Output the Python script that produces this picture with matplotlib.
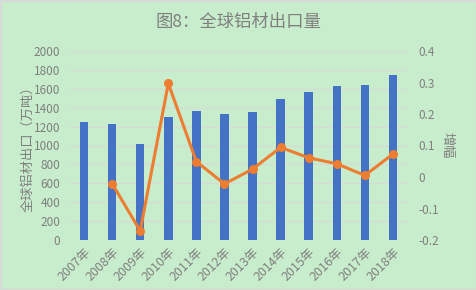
import matplotlib
matplotlib.use("Agg")
import matplotlib.pyplot as plt
import numpy as np

plt.rcParams['font.family'] = ['Noto Sans CJK SC', 'DejaVu Sans']

years = ["2007年", "2008年", "2009年", "2010年", "2011年", "2012年",
         "2013年", "2014年", "2015年", "2016年", "2017年", "2018年"]
exports = [1252, 1224, 1012, 1305, 1365, 1333, 1358, 1489, 1569, 1630, 1640, 1746]
growth = [None, -0.021, -0.171, 0.297, 0.049, -0.022, 0.025, 0.094, 0.061, 0.042, 0.005, 0.073]

bg = "#C8EDCC"
txt = "#7F7F7F"

fig = plt.figure(figsize=(4.77, 2.9), dpi=100, facecolor=bg)
fig.patches.append(plt.Rectangle((0, 0), 1, 1, transform=fig.transFigure,
                                 fill=False, edgecolor="#D9D9D9", linewidth=2.5))
ax = fig.add_axes([70/477, 1-240/290, 337/477, 189/290])
ax.set_facecolor(bg)
x = np.arange(len(years))
ax.bar(x, exports, width=0.3, color="#4472C4", zorder=2)
ax.set_ylim(0, 2000)
ax.set_yticks(np.arange(0, 2001, 200))
ax.set_xlim(-0.5, len(years)-0.5)
ax.set_xticks(x)
ax.set_xticklabels(years, rotation=45, ha="right", rotation_mode="anchor")
ax.grid(axis="y", color="#D9D9D9", linewidth=0.8, zorder=0)
for s in ax.spines.values():
    s.set_visible(False)
ax.tick_params(axis="both", length=0, colors=txt, labelsize=8.5)
ax.tick_params(axis="x", labelsize=9, pad=4)
ax.tick_params(axis="y", pad=7)
ax.set_ylabel("全球铝材出口（万吨）", color=txt, fontsize=9.5, va="center")
ax.yaxis.set_label_coords(-0.125, 0.5)

ax2 = ax.twinx()
gx = [i for i, g in enumerate(growth) if g is not None]
gy = [g for g in growth if g is not None]
ax2.plot(gx, gy, color="#ED7D31", linewidth=2.2, marker="o", markersize=5.5, zorder=3)
ax2.set_ylim(-0.2, 0.4)
ax2.set_yticks([-0.2, -0.1, 0, 0.1, 0.2, 0.3, 0.4])
ax2.set_yticklabels(["-0.2", "-0.1", "0", "0.1", "0.2", "0.3", "0.4"])
for s in ax2.spines.values():
    s.set_visible(False)
ax2.tick_params(axis="y", length=0, colors=txt, labelsize=8.5, pad=8)
ax2.set_ylabel("增幅", color=txt, fontsize=9.5, rotation=-90, va="center")
ax2.yaxis.set_label_coords(1.12, 0.5)

fig.text(0.5, 1-22/290, "图8：全球铝材出口量", ha="center", va="center",
         color=txt, fontsize=12.5)

fig.savefig("out.png", dpi=100, facecolor=bg)
